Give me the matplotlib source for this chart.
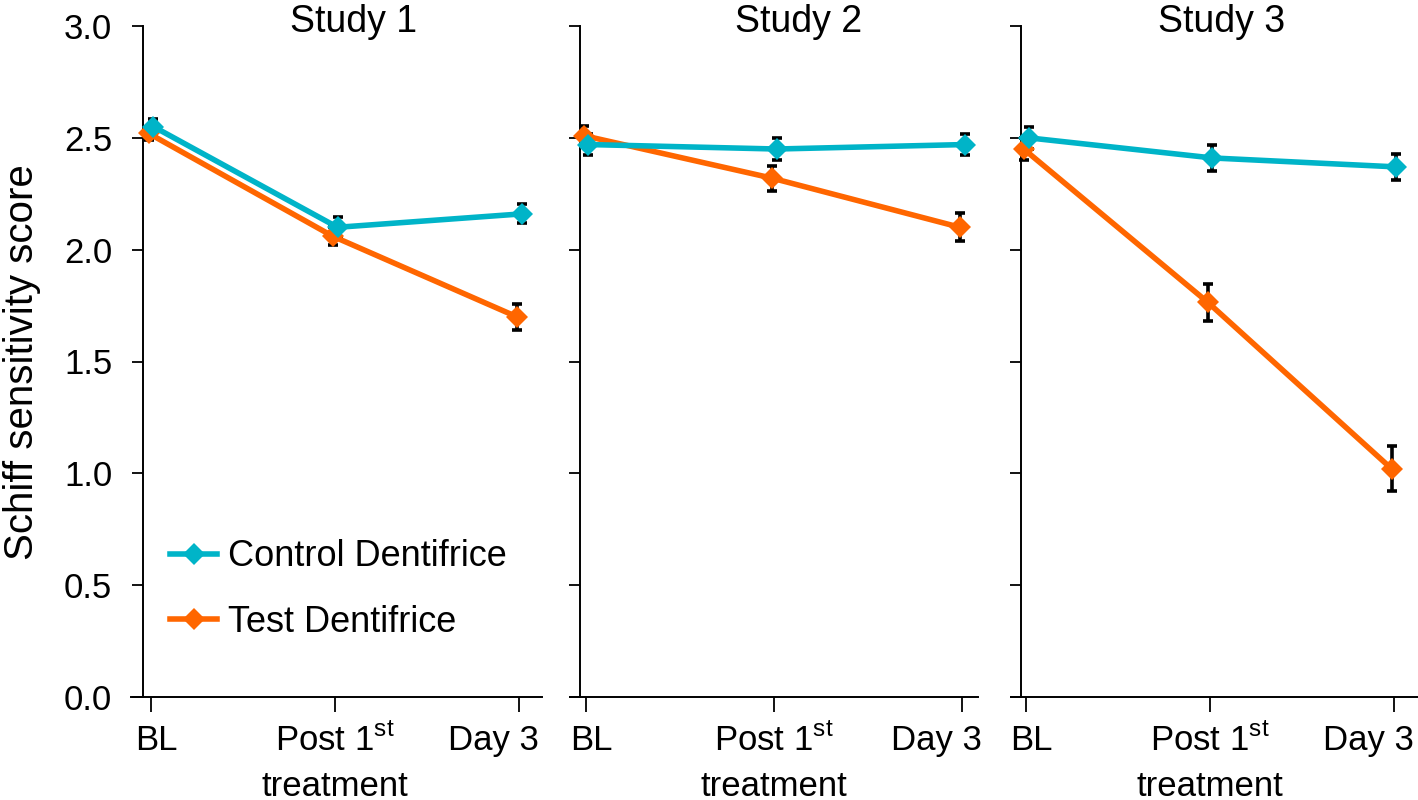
import matplotlib.pyplot as plt

plt.rcParams['font.family'] = ['Liberation Sans', 'DejaVu Sans']
plt.rcParams['mathtext.fontset'] = 'custom'
plt.rcParams['mathtext.rm'] = 'Liberation Sans'

# Data
studies = ["Study 1", "Study 2", "Study 3"]
timepoints = ["BL", "Post $1^{\\mathrm{st}}$\ntreatment", "Day 3"]
x_pos = [0, 1, 2]

control_mean = [[2.55, 2.10, 2.16], [2.47, 2.45, 2.47], [2.50, 2.41, 2.37]]
control_err = [[0.035, 0.045, 0.043], [0.045, 0.05, 0.045], [0.05, 0.058, 0.058]]
test_mean = [[2.52, 2.06, 1.70], [2.51, 2.32, 2.10], [2.45, 1.765, 1.02]]
test_err = [[0.03, 0.04, 0.058], [0.045, 0.056, 0.063], [0.05, 0.083, 0.10]]

control_color = "#00b4c8"
test_color = "#ff6600"

# Panel layout (figure fraction) and x ranges
panel_left = [0.0924, 0.402, 0.713]
panel_width = [0.290, 0.288, 0.287]
panel_xlim = [(-0.109, 2.125), (-0.085, 2.085), (-0.082, 2.13)]
panel_spine = [-0.045, -0.032, -0.027]
title_x = [1.10, 1.13, 1.065]
label_shift = [0.027, 0.0, -0.14]   # x tick label nudges (data units)
dodge = 0.013

fig = plt.figure(figsize=(14.18, 8), dpi=100)

for i in range(3):
    ax = fig.add_axes([panel_left[i], 0.12875, panel_width[i], 0.83875])
    xc = [x + dodge for x in x_pos]
    xt = [x - dodge for x in x_pos]

    # error bars under the lines
    ax.errorbar(xt, test_mean[i], yerr=test_err[i], fmt="none", ecolor="black",
                elinewidth=2.6, capsize=3.5, capthick=2.6, zorder=2)
    ax.errorbar(xc, control_mean[i], yerr=control_err[i], fmt="none", ecolor="black",
                elinewidth=2.6, capsize=3.5, capthick=2.6, zorder=2)
    ax.plot(xt, test_mean[i], color=test_color, lw=4, marker="D", ms=11,
            mew=0, label="Test Dentifrice", zorder=3)
    ax.plot(xc, control_mean[i], color=control_color, lw=4, marker="D", ms=11,
            mew=0, label="Control Dentifrice", zorder=4)

    ax.set_xlim(*panel_xlim[i])
    ax.set_ylim(0, 3.0)
    ax.set_yticks([0, 0.5, 1.0, 1.5, 2.0, 2.5, 3.0])
    ax.set_xticks(x_pos)
    ax.set_xticklabels([])
    # tick labels drawn by hand so "Day 3" can sit left of its tick
    for x, lab, dx in zip(x_pos, timepoints, label_shift):
        ax.text(x + dx, -0.040, lab, transform=ax.get_xaxis_transform(),
                ha="center", va="top", fontsize=25, linespacing=1.45,
                multialignment="center", clip_on=False)

    for s in ["top", "right"]:
        ax.spines[s].set_visible(False)
    ax.spines["left"].set_position(("data", panel_spine[i]))
    ax.spines["left"].set_linewidth(1.4)
    ax.spines["bottom"].set_linewidth(1.4)
    ax.tick_params(axis="y", direction="out", length=8, width=1.3, labelsize=25, pad=14)
    ax.tick_params(axis="x", direction="out", length=11, width=1.3)
    if i == 0:
        ax.set_yticklabels(["0.0", "0.5", "1.0", "1.5", "2.0", "2.5", "3.0"])
        handles, labels = ax.get_legend_handles_labels()
        ax.legend(handles[::-1], labels[::-1], loc="upper left",
                  bbox_to_anchor=(0.095, 0.235), frameon=False, fontsize=26,
                  handlelength=1.3, handletextpad=0.3, labelspacing=0.85,
                  borderpad=0, borderaxespad=0)
    else:
        ax.set_yticklabels([])

    ax.text(title_x[i], 2.972, studies[i], ha="center", va="baseline",
            fontsize=27, clip_on=False)

fig.text(22 / 1418, 1 - 362 / 800, "Schiff sensitivity score", rotation=90,
         ha="center", va="center", fontsize=29)

fig.savefig("out.png", dpi=100)
